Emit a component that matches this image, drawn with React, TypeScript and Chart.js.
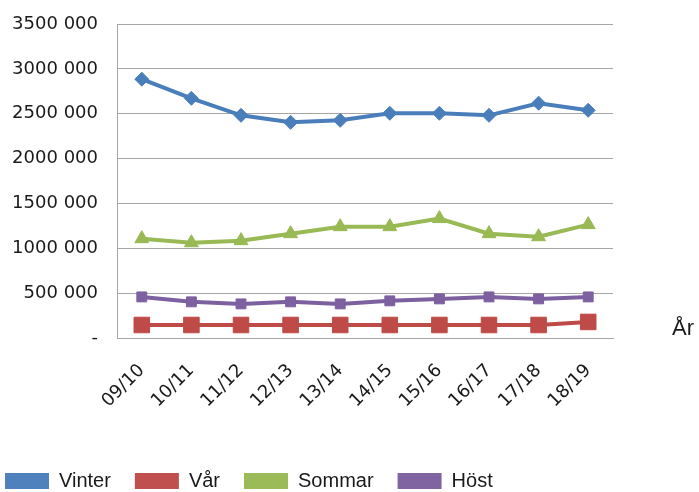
import React, { useEffect, useRef } from "react";
import { Chart, registerables } from "chart.js";

Chart.register(...registerables);

const categories = ["09/10", "10/11", "11/12", "12/13", "13/14", "14/15", "15/16", "16/17", "17/18", "18/19"];
const vinter = [2885000, 2672000, 2482000, 2404000, 2426000, 2505000, 2505000, 2482000, 2617000, 2538000];
const var_ = [145000, 145000, 145000, 145000, 145000, 145000, 145000, 145000, 145000, 179000];
const sommar = [1107000, 1062000, 1085000, 1163000, 1241000, 1241000, 1331000, 1163000, 1129000, 1264000];
const host = [458000, 403000, 380000, 403000, 380000, 414000, 436000, 458000, 436000, 458000];
const xAxisTitle = "År";

const tickFont = { family: "'DejaVu Sans', sans-serif", size: 18 };
const legendFont = { family: "'Liberation Sans', Arial, sans-serif", size: 20 };

const axisTitlePlugin = {
  id: "axisTitleRight",
  afterLayout(chart: any) {
    const lg = chart.legend;
    if (lg) {
      const dx = -(lg.left + 24 - 5);
      lg.left += dx;
      lg.right += dx;
      lg.top += 9;
      lg.bottom += 9;
    }
  },
  afterDraw(chart: any) {
    const ctx = chart.ctx;
    const area = chart.chartArea;
    ctx.save();
    ctx.font = "22px 'Liberation Sans', Arial, sans-serif";
    ctx.fillStyle = "#1a1a1a";
    ctx.textAlign = "left";
    ctx.textBaseline = "alphabetic";
    ctx.fillText(xAxisTitle, area.right + 59, area.bottom - 3);
    ctx.restore();
  },
};

export default function App() {
  const ref = useRef<HTMLCanvasElement | null>(null);
  useEffect(() => {
    if (!ref.current) return;
    const chart = new Chart(ref.current, {
      type: "line",
      data: {
        labels: categories,
        datasets: [
          {
            label: "Vinter",
            data: vinter,
            borderColor: "#4A7EBB",
            backgroundColor: "#4F81BD",
            borderWidth: 4,
            pointStyle: "rectRot",
            pointRadius: 7,
            pointBackgroundColor: "#4A7EBB",
            pointBorderColor: "#4A7EBB",
            pointBorderWidth: 1,
          },
          {
            label: "Vår",
            data: var_,
            borderColor: "#BE4B48",
            backgroundColor: "#C0504D",
            borderWidth: 4,
            pointStyle: "rect",
            pointRadius: 11,
            pointBackgroundColor: "#BE4B48",
            pointBorderColor: "#BE4B48",
            pointBorderWidth: 1,
          },
          {
            label: "Sommar",
            data: sommar,
            borderColor: "#98B954",
            backgroundColor: "#9BBB59",
            borderWidth: 4,
            pointStyle: "triangle",
            pointRadius: 8,
            pointBackgroundColor: "#98B954",
            pointBorderColor: "#98B954",
            pointBorderWidth: 1,
          },
          {
            label: "Höst",
            data: host,
            borderColor: "#7D60A0",
            backgroundColor: "#8064A2",
            borderWidth: 4,
            pointStyle: "rect",
            pointRadius: 7,
            pointBackgroundColor: "#7D60A0",
            pointBorderColor: "#7D60A0",
            pointBorderWidth: 1,
          },
        ],
      },
      options: {
        responsive: false,
        animation: false,
        layout: { padding: { top: 24, right: 86, left: 0, bottom: 0 } },
        plugins: {
          tooltip: { enabled: false },
          legend: {
            position: "bottom",
            align: "start",
            labels: {
              boxWidth: 44,
              boxHeight: 16,
              padding: 24,
              font: legendFont,
              color: "#1a1a1a",
              generateLabels: (c: any) =>
                c.data.datasets.map((d: any, i: number) => ({
                  text: d.label,
                  fillStyle: d.backgroundColor,
                  strokeStyle: d.backgroundColor,
                  lineWidth: 0,
                  hidden: false,
                  datasetIndex: i,
                  fontColor: "#1a1a1a",
                })),
            },
          },
        },
        scales: {
          x: {
            offset: true,
            grid: { display: false, drawTicks: false },
            border: { display: true, color: "#a6a6a6", width: 1 },
            ticks: {
              font: tickFont,
              color: "#1a1a1a",
              maxRotation: 45,
              minRotation: 45,
              padding: 22,
              autoSkip: false,
            },
            afterFit: (s: any) => {
              s.height = 100;
            },
          },
          y: {
            min: 0,
            max: 3500000,
            grid: { color: "#a6a6a6", drawTicks: false, lineWidth: 1 },
            border: { display: true, color: "#a6a6a6", width: 1 },
            ticks: {
              stepSize: 500000,
              font: tickFont,
              color: "#1a1a1a",
              padding: 19,
              callback: (v: any) => (v === 0 ? "-" : `${Number(v) / 1000} 000`),
            },
            afterFit: (s: any) => {
              s.width = 117;
              s.paddingTop = 0;
            },
          },
        },
      },
      plugins: [axisTitlePlugin],
    } as any);
    return () => chart.destroy();
  }, []);
  return (
    <div style={{ position: "fixed", left: 0, top: 0, width: 699, height: 492, background: "#fff" }}>
      <canvas ref={ref} width={699} height={492} style={{ display: "block" }} />
    </div>
  );
}
